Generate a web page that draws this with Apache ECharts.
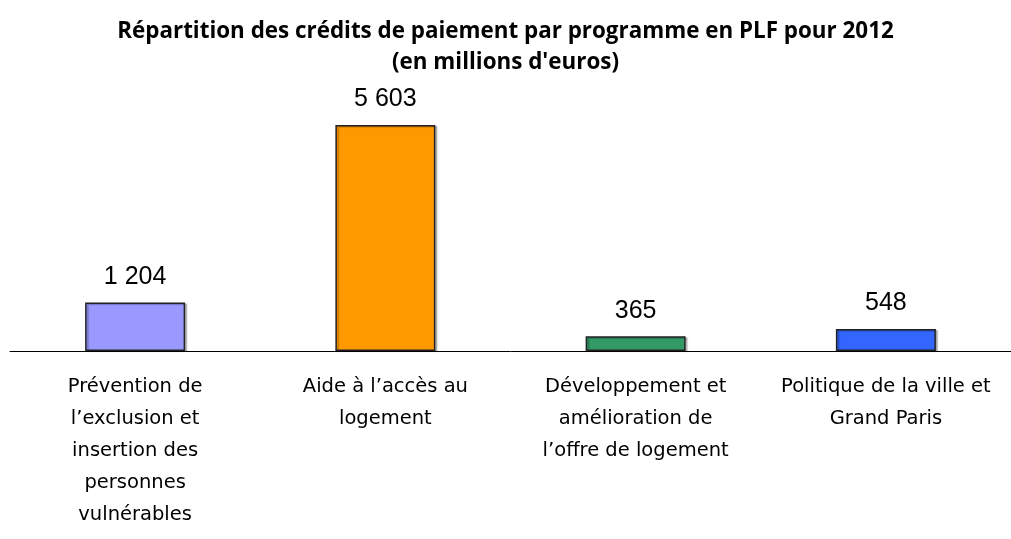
<!DOCTYPE html>
<html>
<head>
<meta charset="utf-8">
<script src="https://cdn.jsdelivr.net/npm/echarts@6/dist/echarts.min.js"></script>
<style>
  html, body { margin: 0; padding: 0; background: #fff; }
  #chart { width: 1011px; height: 539px; }
</style>
</head>
<body>
<div id="chart"></div>
<script>
// programmes (libellés de l'axe)
const categories = [
  'Prévention de\nl\u2019exclusion et\ninsertion des\npersonnes\nvulnérables',
  'Aide à l\u2019accès au\nlogement',
  'Développement et\namélioration de\nl\u2019offre de logement',
  'Politique de la ville et\nGrand Paris'
]
// crédits de paiement, en millions d'euros
const values = [1204, 5603, 365, 548]
const barColors = ['#9999FF', '#FF9900', '#339966', '#3366FF']

const chart = echarts.init(document.getElementById('chart'))

// format "5 603"
const fmt = (v) => String(v).replace(/\B(?=(\d{3})+(?!\d))/g, ' ')

const option = {
  animation: false,
  title: {
    text: 'Répartition des crédits de paiement par programme en PLF pour 2012\n(en millions d\'euros)',
    left: 'center',
    top: 11,
    textStyle: {
      fontFamily: 'Open Sans',
      fontWeight: 'bold',
      fontSize: 22.4,
      lineHeight: 31,
      color: '#000'
    }
  },
  grid: {
    left: 10,
    right: 0,
    top: 125,
    bottom: 188
  },
  xAxis: {
    type: 'category',
    data: categories,
    axisLine: { lineStyle: { color: '#000', width: 1 } },
    axisTick: { show: false },
    axisLabel: {
      interval: 0,
      margin: 20,
      fontFamily: 'DejaVu Sans',
      fontSize: 19.5,
      lineHeight: 32,
      color: '#000'
    }
  },
  yAxis: {
    type: 'value',
    min: 0,
    max: Math.max(...values),
    show: false,
    splitLine: { show: false }
  },
  series: [
    {
      type: 'bar',
      barWidth: 100,
      data: values.map((v, i) => ({
        value: v,
        itemStyle: { color: barColors[i] }
      })),
      itemStyle: {
        borderColor: '#222',
        borderWidth: 1.5,
        shadowColor: 'rgba(0,0,0,0.25)',
        shadowOffsetX: 2,
        shadowOffsetY: 1,
        shadowBlur: 1
      },
      label: {
        show: true,
        position: 'top',
        distance: 13,
        fontFamily: 'Liberation Sans',
        fontSize: 25,
        color: '#000',
        formatter: (p) => fmt(p.value)
      }
    }
  ]
}
chart.setOption(option)
</script>
</body>
</html>
